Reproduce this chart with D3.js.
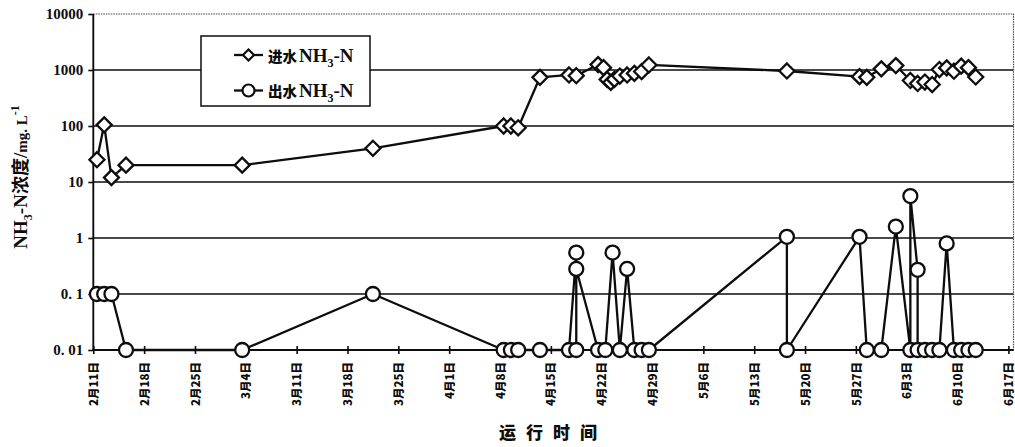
<!DOCTYPE html>
<html>
<head>
<meta charset="utf-8">
<script src="https://cdn.jsdelivr.net/npm/d3@7/dist/d3.min.js"></script>
<style>
  html, body { margin: 0; padding: 0; background: #fff; }
  svg { display: block; }
</style>
</head>
<body>
<svg id="chart" width="1015" height="447"></svg>
<script>
// Sampling times (month-day hour) and NH3-N concentrations, mg/L
const inTimes = ["02-11 12","02-12 12","02-13 12","02-15 12","03-03 12","03-21 12",
  "04-08 12","04-09 12","04-10 12","04-13 12","04-17 12","04-18 12",
  "04-21 12","04-22 06","04-22 18","04-23 06","04-23 18","04-24 12","04-25 12",
  "04-26 12","04-27 12","04-28 12","05-17 12","05-27 12","05-28 12","05-30 12",
  "06-01 12","06-03 12","06-04 12","06-05 12","06-06 12","06-07 12","06-08 12",
  "06-09 12","06-10 12","06-11 12","06-12 12"];
const inValues = [25,105,12,20,20,40,
  100,100,93,740,815,790,
  1250,1100,680,600,680,780,815,
  870,940,1230,960,760,740,1050,
  1200,650,575,610,550,1020,1090,
  950,1170,1100,750];

const outTimes = ["02-11 12","02-12 12","02-13 12","02-15 12","03-03 12","03-21 12",
  "04-08 12","04-09 12","04-10 12","04-13 12","04-17 12","04-18 12","04-18 12","04-18 12",
  "04-21 12","04-22 12","04-23 12","04-24 12","04-25 12","04-26 12","04-27 12","04-28 12",
  "05-17 12","05-17 12","05-27 12","05-28 12","05-30 12","06-01 12","06-03 12","06-03 12",
  "06-04 12","06-04 12","06-05 12","06-06 12","06-07 12","06-08 12",
  "06-09 12","06-10 12","06-11 12","06-12 12"];
const outValues = [0.1,0.1,0.1,0.01,0.01,0.1,
  0.01,0.01,0.01,0.01,0.01,0.55,0.01,0.28,
  0.01,0.01,0.55,0.01,0.28,0.01,0.01,0.01,
  1.05,0.01,1.05,0.01,0.01,1.6,0.01,5.6,
  0.27,0.01,0.01,0.01,0.01,0.8,
  0.01,0.01,0.01,0.01];

const tickDays = ["02-11","02-18","02-25","03-04","03-11","03-18","03-25","04-01","04-08",
  "04-15","04-22","04-29","05-06","05-13","05-20","05-27","06-03","06-10","06-17"];
const tickLabels = ["2月11日","2月18日","2月25日","3月4日","3月11日","3月18日","3月25日","4月1日","4月8日",
  "4月15日","4月22日","4月29日","5月6日","5月13日","5月20日","5月27日","6月3日","6月10日","6月17日"];

const yTicks = [0.01, 0.1, 1, 10, 100, 1000, 10000];
const yTickLabels = ["0. 01", "0. 1", "1", "10", "100", "1000", "10000"];

const seriesNames = ["进水", "出水"];

// ---------------------------------------------------------------
const parseTime = d3.timeParse("%m-%d %H");
const parseDay = d3.timeParse("%m-%d");

const svg = d3.select("#chart");
const plotLeft = 93.3, plotBottom = 350, plotTop = 14, plotRight = 1013.5;

const x = d3.scaleTime()
  .domain([parseDay("02-11"), parseDay("06-17")])
  .range([plotLeft, 1008.4]);
const y = d3.scaleLog().domain([0.01, 10000]).range([plotBottom, plotTop]);

const serif = "'Liberation Serif','Times New Roman','Noto Sans CJK SC',serif";
const sans = "'Noto Sans CJK SC','Liberation Sans',sans-serif";
const ink = "#0d0d0d";

// horizontal grid lines
svg.append("g").selectAll("line")
  .data(yTicks.filter(v => v < 10000))
  .join("line")
  .attr("x1", plotLeft).attr("x2", plotRight)
  .attr("y1", d => y(d)).attr("y2", d => y(d))
  .attr("stroke", ink).attr("stroke-width", 1.5);

// dotted top and right frame
svg.append("path")
  .attr("d", `M${plotLeft},${y(10000)}H${plotRight}V${plotBottom}`)
  .attr("fill", "none").attr("stroke", "#444")
  .attr("stroke-width", 1.2).attr("stroke-dasharray", "1.5,1");

// y axis
const yAxis = svg.append("g")
  .attr("transform", `translate(${plotLeft},0)`)
  .call(d3.axisLeft(y).tickValues(yTicks)
    .tickFormat((d, i) => yTickLabels[i]).tickSize(5).tickSizeOuter(0));
yAxis.select(".domain").remove();
yAxis.selectAll(".tick line").attr("stroke", ink).attr("stroke-width", 1.6);
yAxis.selectAll(".tick text")
  .attr("x", -10)
  .attr("font-family", serif).attr("font-weight", "bold")
  .attr("font-size", 15).attr("fill", ink);
svg.append("line").attr("x1", plotLeft).attr("x2", plotLeft)
  .attr("y1", plotTop).attr("y2", plotBottom + 1)
  .attr("stroke", ink).attr("stroke-width", 1.9);

// x axis
const xAxis = svg.append("g")
  .attr("transform", `translate(0,${plotBottom})`)
  .call(d3.axisBottom(x).tickValues(tickDays.map(parseDay))
    .tickFormat((d, i) => tickLabels[i]).tickSize(4).tickSizeOuter(0));
xAxis.select(".domain").remove();
xAxis.selectAll(".tick line").attr("y1", -4).attr("stroke", ink).attr("stroke-width", 1.6);
xAxis.selectAll(".tick text")
  .attr("transform", "rotate(-90)")
  .attr("text-anchor", "end")
  .attr("x", -12).attr("y", 0).attr("dy", "0.36em")
  .attr("font-family", sans).attr("font-weight", 900)
  .attr("font-size", 11.5).attr("fill", ink);
svg.append("line").attr("x1", plotLeft - 1).attr("x2", plotRight)
  .attr("y1", plotBottom).attr("y2", plotBottom)
  .attr("stroke", ink).attr("stroke-width", 2.1);

// axis titles
const yTitle = svg.append("text")
  .attr("transform", `translate(27,177) rotate(-90)`)
  .attr("text-anchor", "middle")
  .attr("font-family", serif).attr("font-weight", "bold")
  .attr("font-size", 19).attr("fill", ink);
yTitle.append("tspan").text("NH");
yTitle.append("tspan").attr("dy", 5).attr("font-size", 12).text("3");
yTitle.append("tspan").attr("dy", -5).text("-N");
yTitle.append("tspan").attr("font-family", sans).attr("font-size", 18).text("浓度");
yTitle.append("tspan").text("/");
yTitle.append("tspan").attr("font-size", 15).text("mg. L");
yTitle.append("tspan").attr("dy", -8).attr("font-size", 12).text("-1");

svg.append("text")
  .attr("x", 553).attr("y", 439)
  .attr("text-anchor", "middle")
  .attr("font-family", sans).attr("font-weight", 900)
  .attr("font-size", 17).attr("letter-spacing", 10).attr("fill", ink)
  .text("运行时间");

// series
const inData = inTimes.map((t, i) => ({ t: parseTime(t), v: inValues[i] }));
const outData = outTimes.map((t, i) => ({ t: parseTime(t), v: outValues[i] }));

const line = d3.line().x(d => x(d.t)).y(d => y(d.v));
const diamond = "M0,-7.5L7.5,0L0,7.5L-7.5,0Z";

function drawSeries(data, shape) {
  const g = svg.append("g");
  g.append("path").datum(data).attr("d", line)
    .attr("fill", "none").attr("stroke", ink).attr("stroke-width", 2.3)
    .attr("stroke-linejoin", "round");
  const marks = g.selectAll(".m").data(data).join(shape === "diamond" ? "path" : "circle")
    .attr("fill", "#fff").attr("stroke", ink).attr("stroke-width", 2.3);
  if (shape === "diamond") {
    marks.attr("d", diamond).attr("transform", d => `translate(${x(d.t)},${y(d.v)})`);
  } else {
    marks.attr("cx", d => x(d.t)).attr("cy", d => y(d.v)).attr("r", 7);
  }
}
drawSeries(inData, "diamond");
drawSeries(outData, "circle");

// legend
const lg = svg.append("g");
lg.append("rect").attr("x", 201).attr("y", 36).attr("width", 169).attr("height", 70)
  .attr("fill", "#fff").attr("stroke", ink).attr("stroke-width", 1.5);
const rows = [{ name: seriesNames[0], shape: "diamond", cy: 55 },
              { name: seriesNames[1], shape: "circle", cy: 90.5 }];
rows.forEach(r => {
  lg.append("line").attr("x1", 234).attr("x2", 263).attr("y1", r.cy).attr("y2", r.cy)
    .attr("stroke", ink).attr("stroke-width", 2.3);
  if (r.shape === "diamond") {
    lg.append("path").attr("d", "M0,-5.5L5.5,0L0,5.5L-5.5,0Z")
      .attr("transform", `translate(248.5,${r.cy})`)
      .attr("fill", "#fff").attr("stroke", ink).attr("stroke-width", 2.2);
  } else {
    lg.append("circle").attr("cx", 248.5).attr("cy", r.cy).attr("r", 6)
      .attr("fill", "#fff").attr("stroke", ink).attr("stroke-width", 2.2);
  }
  const t = lg.append("text").attr("x", 268).attr("y", r.cy + 6.5)
    .attr("font-family", serif).attr("font-weight", "bold").attr("fill", ink);
  t.append("tspan").attr("font-family", sans).attr("font-weight", 900)
    .attr("font-size", 14.5).text(r.name);
  t.append("tspan").attr("font-size", 19).attr("dx", 2).text("NH");
  t.append("tspan").attr("font-size", 12).attr("dy", 5).text("3");
  t.append("tspan").attr("font-size", 19).attr("dy", -5).text("-N");
});
</script>
</body>
</html>
